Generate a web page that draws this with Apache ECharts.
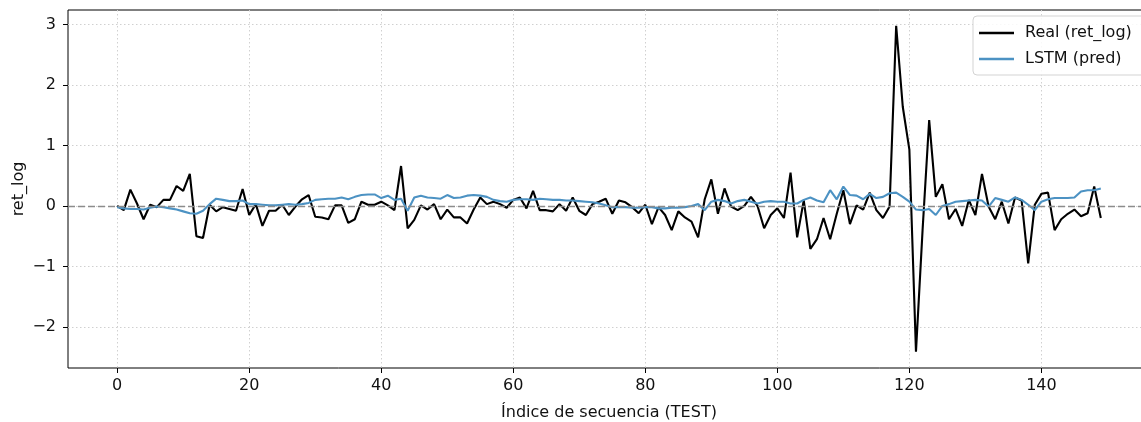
<!DOCTYPE html>
<html>
<head>
<meta charset="utf-8">
<script src="https://cdn.jsdelivr.net/npm/echarts@6/dist/echarts.min.js"></script>
<style>
  html, body { margin: 0; padding: 0; overflow: hidden; background: #fff; }
  #chart { width: 1160px; height: 422px; }
</style>
</head>
<body>
<div id="chart"></div>
<script>
const seriesNames = ['Real (ret_log)', 'LSTM (pred)'];
const xTicks = [0, 20, 40, 60, 80, 100, 120, 140];
const yTicks = [-2, -1, 0, 1, 2, 3];
const xLabel = 'Índice de secuencia (TEST)';
const yLabel = 'ret_log';

const realValues = [
  0.00, -0.07, 0.27, 0.04, -0.22, 0.02, -0.02, 0.10, 0.10, 0.33,
  0.25, 0.53, -0.50, -0.53, 0.02, -0.09, -0.02, -0.05, -0.08, 0.28,
  -0.15, 0.03, -0.33, -0.08, -0.08, 0.02, -0.15, -0.01, 0.11, 0.18,
  -0.18, -0.19, -0.22, 0.01, 0.01, -0.28, -0.22, 0.07, 0.02, 0.02,
  0.07, 0.01, -0.07, 0.66, -0.37, -0.23, 0.01, -0.06, 0.03, -0.22,
  -0.06, -0.19, -0.19, -0.29, -0.06, 0.14, 0.03, 0.07, 0.03, -0.03,
  0.10, 0.14, -0.04, 0.25, -0.07, -0.07, -0.09, 0.03, -0.08, 0.14,
  -0.08, -0.15, 0.03, 0.07, 0.12, -0.13, 0.09, 0.06, -0.02, -0.12,
  0.02, -0.30, -0.02, -0.15, -0.40, -0.09, -0.19, -0.26, -0.52, 0.11,
  0.44, -0.13, 0.29, -0.01, -0.07, 0.00, 0.15, 0.00, -0.37, -0.15,
  -0.04, -0.20, 0.55, -0.52, 0.09, -0.71, -0.55, -0.20, -0.55, -0.13,
  0.26, -0.30, 0.01, -0.06, 0.22, -0.07, -0.20, -0.01, 2.98, 1.64,
  0.93, -2.41, -0.40, 1.42, 0.15, 0.36, -0.22, -0.05, -0.33, 0.10,
  -0.15, 0.53, -0.01, -0.22, 0.07, -0.29, 0.14, 0.09, -0.95, 0.02,
  0.20, 0.22, -0.40, -0.22, -0.13, -0.06, -0.17, -0.12, 0.32, -0.20
];

const predValues = [
  -0.02, -0.04, -0.05, -0.05, -0.06, -0.03, -0.01, -0.02, -0.04, -0.06,
  -0.09, -0.12, -0.13, -0.08, 0.03, 0.12, 0.10, 0.08, 0.08, 0.09,
  0.03, 0.03, 0.02, 0.01, 0.01, 0.02, 0.03, 0.02, 0.03, 0.05,
  0.10, 0.11, 0.12, 0.12, 0.14, 0.11, 0.15, 0.18, 0.19, 0.19,
  0.13, 0.17, 0.10, 0.12, -0.08, 0.14, 0.17, 0.14, 0.13, 0.12,
  0.18, 0.13, 0.14, 0.17, 0.18, 0.17, 0.15, 0.10, 0.08, 0.07,
  0.10, 0.11, 0.11, 0.10, 0.12, 0.11, 0.10, 0.10, 0.09, 0.09,
  0.08, 0.07, 0.06, 0.04, 0.01, -0.02, -0.02, -0.02, -0.03, -0.03,
  -0.02, -0.02, -0.04, -0.04, -0.03, -0.03, -0.02, 0.00, 0.03, -0.07,
  0.07, 0.10, 0.08, 0.04, 0.08, 0.10, 0.07, 0.04, 0.07, 0.08,
  0.07, 0.07, 0.04, 0.04, 0.10, 0.14, 0.09, 0.06, 0.26, 0.11,
  0.32, 0.18, 0.17, 0.11, 0.20, 0.13, 0.15, 0.21, 0.22, 0.15,
  0.07, -0.06, -0.07, -0.05, -0.15, 0.00, 0.03, 0.07, 0.08, 0.09,
  0.10, 0.09, -0.01, 0.13, 0.10, 0.07, 0.14, 0.10, 0.02, -0.07,
  0.07, 0.11, 0.13, 0.13, 0.13, 0.14, 0.24, 0.26, 0.26, 0.29
];

const toPairs = arr => arr.map((v, i) => [i, v]);
const FONT = 'DejaVu Sans';
const FS = 16;
const minusFmt = v => String(v).replace('-', '\u2212');

const chart = echarts.init(document.getElementById('chart'), null, { renderer: 'canvas' });
chart.setOption({
  animation: false,
  backgroundColor: '#fff',
  textStyle: { fontFamily: FONT },
  grid: {
    left: 68, right: 10, top: 10, bottom: 54,
    outerBoundsMode: 'none', containLabel: false,
    show: true, borderColor: '#000', borderWidth: 1, backgroundColor: 'transparent'
  },
  legend: {
    data: seriesNames,
    orient: 'vertical',
    left: 973, top: 16,
    padding: [8, 30, 7, 6],
    itemGap: 8,
    itemWidth: 35, itemHeight: 2.5,
    icon: 'rect',
    textStyle: { fontFamily: FONT, fontSize: FS, color: '#111', lineHeight: 18, padding: [0, 0, 0, 6] },
    backgroundColor: 'rgba(255,255,255,0.85)',
    borderColor: '#d3d3d3', borderWidth: 1, borderRadius: 4
  },
  xAxis: {
    type: 'value',
    min: -7.45, max: 156.45,
    name: xLabel, nameLocation: 'middle', nameGap: 37, nameMoveOverlap: false,
    nameTextStyle: { fontFamily: FONT, fontSize: FS, color: '#111' },
    axisLine: { show: false, onZero: false },
    axisTick: { show: true, inside: false, length: 5, customValues: xTicks, lineStyle: { color: '#000', width: 1 } },
    axisLabel: { customValues: xTicks, fontFamily: FONT, fontSize: FS, color: '#111', margin: 10, formatter: minusFmt },
    splitLine: { show: true, lineStyle: { color: '#d0d0d0', width: 1, type: [1.5, 2.5] } }
  },
  yAxis: {
    type: 'value',
    min: -2.68, max: 3.24,
    name: yLabel, nameLocation: 'middle', nameGap: 41, nameMoveOverlap: false,
    nameTextStyle: { fontFamily: FONT, fontSize: FS, color: '#111' },
    axisLine: { show: false, onZero: false },
    axisTick: { show: true, inside: false, length: 5, customValues: yTicks, lineStyle: { color: '#000', width: 1 } },
    axisLabel: { customValues: yTicks, fontFamily: FONT, fontSize: FS, color: '#111', margin: 12, formatter: minusFmt },
    splitLine: { show: true, lineStyle: { color: '#d0d0d0', width: 1, type: [1.5, 2.5] } }
  },
  series: [
    {
      name: seriesNames[0],
      type: 'line',
      data: toPairs(realValues),
      showSymbol: false, symbol: 'none',
      lineStyle: { color: '#000', width: 2.1 },
      itemStyle: { color: '#000' },
      markLine: {
        silent: true, symbol: 'none', label: { show: false },
        lineStyle: { color: '#8c8c8c', type: [7, 3], width: 1.3 },
        data: [{ yAxis: 0 }]
      },
      z: 2
    },
    {
      name: seriesNames[1],
      type: 'line',
      data: toPairs(predValues),
      showSymbol: false, symbol: 'none',
      lineStyle: { color: '#4c92c3', width: 2.1 },
      itemStyle: { color: '#4c92c3' },
      z: 3
    }
  ]
});
</script>
</body>
</html>
